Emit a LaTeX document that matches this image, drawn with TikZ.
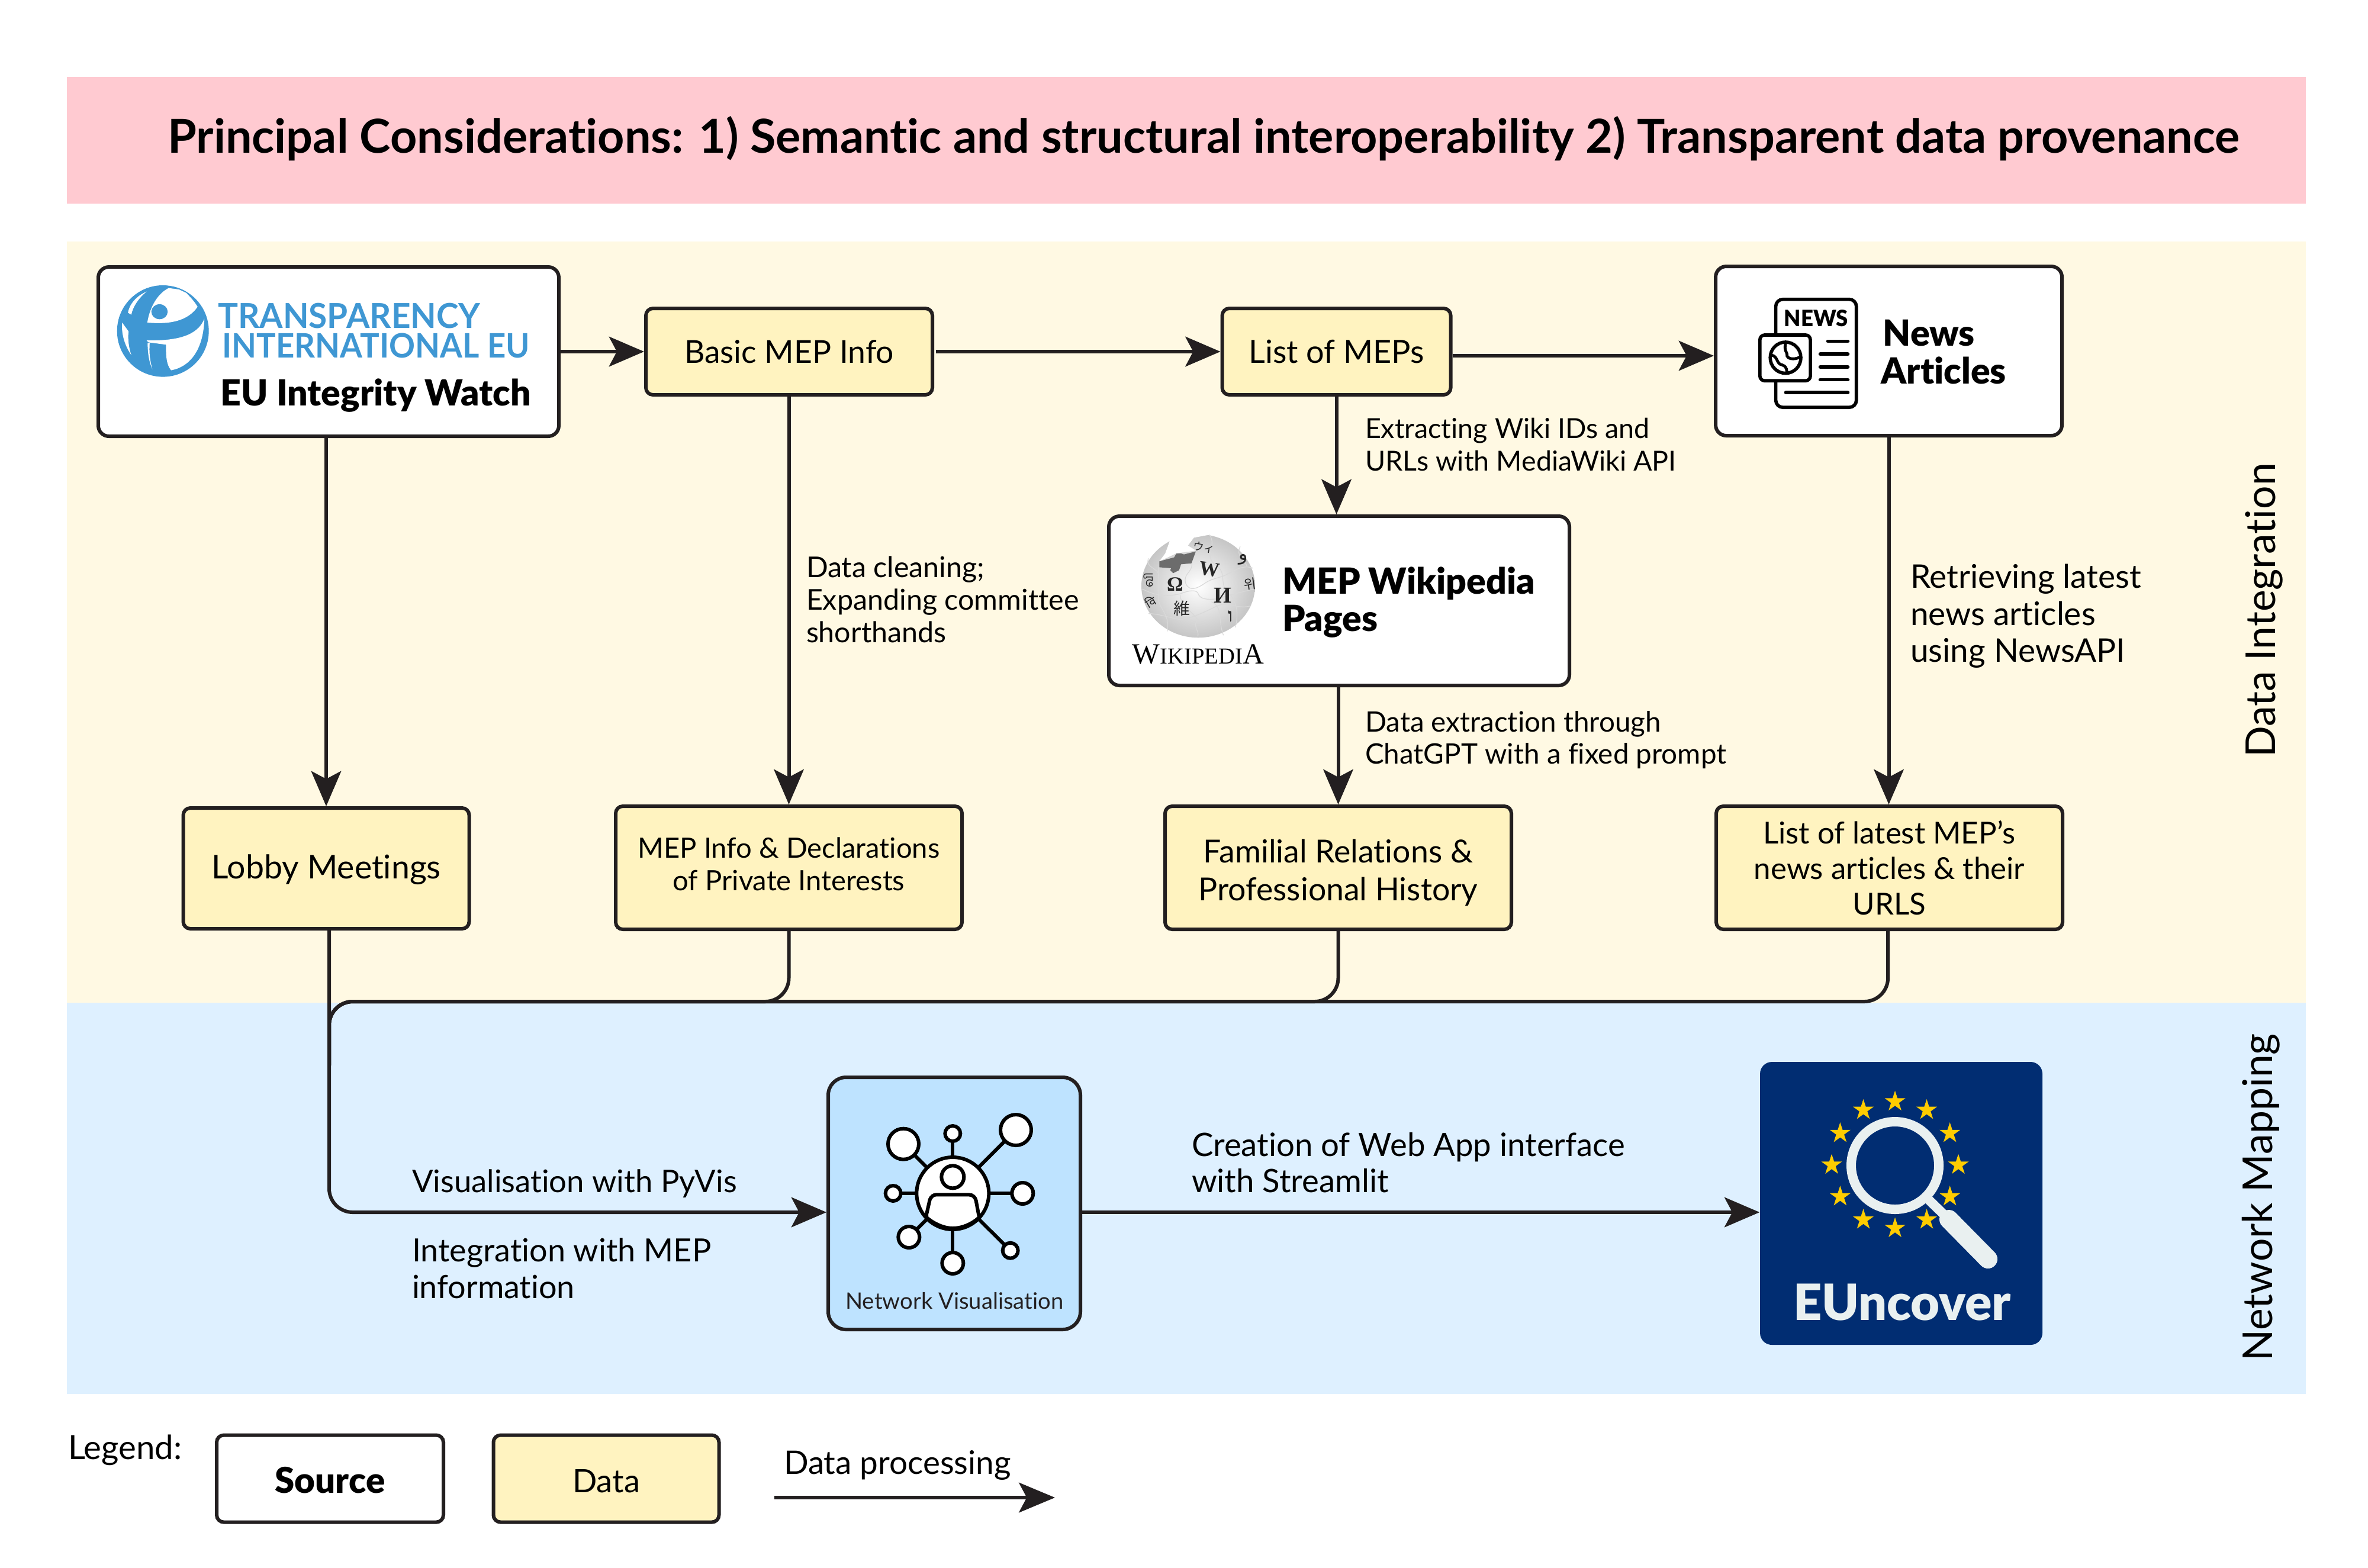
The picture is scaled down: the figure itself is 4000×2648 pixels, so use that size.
\documentclass[tikz,border=0pt]{standalone}
\usepackage{fontspec}
\usetikzlibrary{arrows.meta,shapes.geometric,calc}
\setmainfont{Lato}[Ligatures=NoCommon]
\newfontfamily\heavy{Lato}[UprightFont=* Black,BoldFont=* Black,Ligatures=NoCommon]
\newfontfamily\serifw{Liberation Serif}
\newfontfamily\cjkf{Noto Sans CJK JP}
\newfontfamily\krf{Noto Sans CJK KR}
\newfontfamily\arf[Script=Arabic]{DejaVu Sans}
\newfontfamily\devf[Script=Devanagari]{Noto Sans}
\newfontfamily\tamf[Script=Tamil]{Hind Madurai}
\TeXXeTstate=1
\newcommand\fsz[2]{\fontsize{#1}{#2}\selectfont}
\definecolor{inkc}{HTML}{231F20}
\definecolor{pinkbg}{HTML}{FFCAD1}
\definecolor{yellowbg}{HTML}{FFF9E3}
\definecolor{bluebg}{HTML}{DEF0FF}
\definecolor{datafill}{HTML}{FFF3C0}
\definecolor{netfill}{HTML}{BEE3FF}
\definecolor{tiblue}{HTML}{3F97D3}
\definecolor{eunavy}{HTML}{012D72}
\definecolor{eustar}{HTML}{FFCC00}
\definecolor{euwhite}{HTML}{E9F0F0}
\tikzset{
  base/.style={inner sep=0pt,outer sep=0pt,text=black},
  srcbox/.style={draw=inkc,line width=1.5pt,fill=white,rounded corners=4.5pt,inner sep=0pt},
  databox/.style={draw=inkc,line width=1.5pt,fill=datafill,rounded corners=3pt,inner sep=0pt,align=center},
  conn/.style={draw=inkc,line width=1.5pt},
  arrowln/.style={conn,-{Stealth[length=14.8pt,width=12.6pt,inset=3.3pt]}},
  label/.style={base,anchor=west,align=left},
  heavytxt/.style={base,anchor=base west,font=\heavy\fsz{15.2}{16}},
  icon/.style={draw=black,line width=1.4pt,fill=white},
  netlink/.style={draw=black,line width=1.5pt},
  puzzle/.style={draw=gray!30,line width=.3pt},
  glyph/.style={base,text=black!85},
  star5/.style={star,star points=5,star point ratio=2.618,fill=eustar,inner sep=0pt,minimum size=9.2pt},
}
\begin{document}
\begin{tikzpicture}[x=.25pt,y=-.25pt]
\useasboundingbox (0,0) rectangle (4000,2648);
\fill[white] (0,0) rectangle (4000,2648);
% bands
\fill[pinkbg] (113,130) rectangle (3895,344);
\fill[yellowbg] (113,408) rectangle (3895,1694);
\fill[bluebg] (113,1694) rectangle (3895,2355);
\node[base,font=\bfseries\fsz{19.77}{24}] (title) at (2033,234) {Principal Considerations: 1) Semantic and structural interoperability 2) Transparent data provenance};
% boxes
\node[srcbox,minimum width=194.5pt,minimum height=71.5pt] (eu) at (555,594) {};
\node[databox,font=\fsz{13.35}{15},minimum width=121pt,minimum height=36.5pt] (basic) at (1333,594) {Basic MEP Info};
\node[databox,font=\fsz{13.5}{15},minimum width=96.5pt,minimum height=36.5pt] (list) at (2257.5,594) {List of MEPs};
\node[srcbox,minimum width=146.25pt,minimum height=71.5pt] (news) at (3190.5,593) {};
\node[srcbox,minimum width=194.5pt,minimum height=71.5pt] (wiki) at (2262,1015) {};
\node[databox,font=\fsz{13.85}{15},minimum width=120.75pt,minimum height=51pt] (lobby) at (551,1467) {\rule{0pt}{11.5pt}Lobby Meetings};
\node[databox,font=\fsz{11.8}{13.75},minimum width=146.25pt,minimum height=52pt] (info) at (1332.5,1466) {MEP Info \& Declarations\\\rule[-3.4pt]{0pt}{3.4pt}of Private Interests};
\node[databox,font=\fsz{13.4}{16},minimum width=146.25pt,minimum height=52pt] (fam) at (2260.5,1466) {\rule{0pt}{14pt}Familial Relations \&\\Professional History};
\node[databox,font=\fsz{12.77}{15},minimum width=146.25pt,minimum height=52pt] (latest) at (3191.5,1466) {List of latest MEP’s\\news articles \& their\\URLS};
\node[draw=inkc,line width=1.5pt,fill=netfill,rounded corners=7.5pt,inner sep=0pt,minimum width=106.5pt,minimum height=106.5pt] (net) at (1612,2033) {};
\node[fill=eunavy,rounded corners=5pt,inner sep=0pt,minimum width=119.25pt,minimum height=119.5pt] (eunc) at (3211.5,2033) {};
% connectors
\coordinate (busleft) at (556,1692);
\coordinate (busdown) at (556,1800);
\draw[arrowln] (eu.east) -- (basic.west);
\draw[arrowln] ([xshift=.75pt]basic.east) -- (list.west);
\draw[arrowln] ([yshift=-2pt]news.west -| list.east) -- ([yshift=-2pt]news.west);
\draw[arrowln] (eu.south -| lobby.north) -- (lobby.north);
\draw[arrowln] (basic.south -| info.north) -- (info.north);
\draw[arrowln] (list.south) -- (list.south |- wiki.north);
\draw[arrowln] (wiki.south -| fam.north) -- (fam.north);
\draw[arrowln] (news.south) -- (news.south |- latest.north);
\draw[arrowln,rounded corners=10pt] ([xshift=1.25pt]lobby.south) |- ([yshift=-3.75pt]net.west);
\draw[conn,rounded corners=10pt] ([xshift=-.6pt]latest.south) |- (busleft) -- (busdown);
\draw[conn,rounded corners=10pt] (info.south) |- (busleft) -- (busdown);
\draw[conn,rounded corners=10pt] (fam.south) |- (busleft) -- (busdown);
\draw[arrowln] ([yshift=-3.75pt]net.east) -- ([yshift=-3.75pt]eunc.west);
% connector labels
\node[label,font=\fsz{11.65}{13.6}] (l1) at (2306,751) {Extracting Wiki IDs and\\URLs with MediaWiki API};
\node[label,font=\fsz{12.1}{13.8}] (l2) at (1362,1013) {Data cleaning;\\Expanding committee\\shorthands};
\node[label,font=\fsz{11.9}{13.6}] (l3) at (2306,1250) {Data extraction through\\ChatGPT with a fixed prompt};
\node[label,font=\fsz{13.75}{15.6}] (l4) at (3227,1041) {Retrieving latest\\news articles\\using NewsAPI};
\node[label,font=\fsz{13.16}{15.4}] (l5) at (696,2000) {Visualisation with PyVis};
\node[label,font=\fsz{13.5}{15.4}] (l6) at (696,2143) {Integration with MEP\\information};
\node[label,font=\fsz{13.63}{15.4}] (l7) at (2013,1964) {Creation of Web App interface\\with Streamlit};
\node[base,font=\fsz{17.4}{19},rotate=90] (dint) at (3824,1031) {Data Integration};
\node[base,font=\fsz{17.4}{19},rotate=90] (nmap) at (3819,2023) {Network Mapping};
% Transparency logo
\begin{scope}[shift={(130,420)},x=.1435pt,y=-.0833pt]
  \fill[tiblue] (253,418) ellipse [x radius=135,y radius=232];
  \fill[white] (270,200) .. controls (240,225) and (215,290) .. (207,375) .. controls (270,385) and (325,370) .. (355,295) .. controls (345,265) and (330,240) .. (322,225) -- (300,207) -- cycle;
  \fill[tiblue] (243,320) ellipse [x radius=24,y radius=38];
  \fill[white] (262,487) .. controls (262,540) and (262,585) .. (277,617) .. controls (330,600) and (372,520) .. (375,355) .. controls (360,420) and (320,470) .. (205,465) -- (210,475) -- cycle;
  \fill[white] (208,478) .. controls (208,530) and (212,575) .. (222,612) .. controls (215,570) and (212,530) .. (214,480) -- cycle;
  \fill[white] (205,218) .. controls (175,240) and (155,280) .. (150,325) -- (160,335) .. controls (165,290) and (185,245) .. (205,218) -- cycle;
  \fill[white] (133,375) .. controls (130,430) and (140,490) .. (160,540) .. controls (150,490) and (150,440) .. (152,420) -- cycle;
  \node[base,anchor=west,text=tiblue] (tr) at (415,340) {\resizebox{110.8pt}{10.6pt}{\bfseries TRANSPARENCY}};
  \node[base,anchor=west,text=tiblue] (in) at (428,492) {\resizebox{129.8pt}{10.4pt}{\bfseries INTERNATIONAL EU}};
  \node[base,anchor=base west] (wt) at (423,796) {\resizebox{131pt}{!}{\heavy EU Integrity Watch}};
\end{scope}
% News icon
\begin{scope}[shift={(2850,420)},x=.1116pt,y=-.0833pt]
  \draw[icon,rounded corners=3pt] (335,257) rectangle (640,805);
  \node[base] (newsglyph) at (488,352) {\resizebox{27pt}{7pt}{\heavy NEWS}};
  \draw[icon,rounded corners=2pt] (275,438) rectangle (466,670);
  \draw[icon] (372,553) ellipse [x radius=58,y radius=79];
  \draw[draw=black,line width=1.2pt] (372,480) .. controls (365,520) and (380,525) .. (378,545) .. controls (385,565) and (415,560) .. (425,550);
  \draw[draw=black,line width=1.2pt] (318,540) .. controls (345,545) and (335,585) .. (360,590) .. controls (380,600) and (375,620) .. (378,632);
  \foreach \xa/\yy [count=\i] in {532/470,503/535,503/600,503/665,373/730}
    \draw[draw=black,line width=1.4pt,line cap=round] (\xa,\yy) -- (608,\yy);
  \node[heavytxt] (n1) at (741,495) {News};
  \node[heavytxt] (n2) at (734,686) {Articles};
\end{scope}
\node[heavytxt] (w1) at (2166,1003) {MEP Wikipedia};
\node[heavytxt] (w2) at (2166,1066) {Pages};
% Wikipedia globe
\begin{scope}[shift={(1900,880)},x=.0833pt,y=-.0833pt]
  \shade[inner color=white,outer color=gray!45] (372,330) ellipse [x radius=288,y radius=262];
  \fill[white] (110,50) -- (240,50) -- (235,75) -- (225,110) -- (205,165) -- (175,205) -- (260,165) -- (330,155) -- (360,150) -- (320,125) -- (350,85) -- (430,70) -- (510,68) -- (510,50) -- cycle;
  \fill[gray!85!black] (175,205) -- (250,185) -- (262,165) -- (285,165) -- (300,170) -- (360,155) -- (338,215) -- (285,220) -- (275,250) -- (245,265) -- (230,250) -- (235,240) -- (175,235) -- cycle;
  \draw[puzzle] (340,215) .. controls (345,260) and (290,270) .. (310,320) .. controls (330,360) and (370,340) .. (400,320) .. controls (440,290) and (480,290) .. (510,275) .. controls (560,250) and (600,220) .. (650,240);
  \draw[puzzle] (88,345) .. controls (140,370) and (190,390) .. (280,370) .. controls (330,350) and (360,350) .. (370,365) .. controls (380,400) and (420,400) .. (470,395) .. controls (520,380) and (590,360) .. (660,345);
  \draw[puzzle] (120,470) .. controls (170,470) and (220,490) .. (280,500) .. controls (320,500) and (390,470) .. (470,430) .. controls (520,410) and (580,450) .. (640,430);
  \draw[puzzle] (170,235) .. controls (170,280) and (170,330) .. (170,400) .. controls (180,450) and (230,480) .. (215,560);
  \draw[puzzle] (280,375) .. controls (280,420) and (330,450) .. (370,500) .. controls (340,530) and (380,560) .. (370,585);
  \draw[puzzle] (430,70) .. controls (470,130) and (390,180) .. (470,230) .. controls (520,270) and (470,330) .. (540,380) .. controls (580,440) and (570,500) .. (560,540);
  \draw[puzzle] (440,410) .. controls (500,440) and (470,500) .. (500,580);
  \draw[puzzle] (120,190) .. controls (100,240) and (180,240) .. (170,280);
  \draw[puzzle] (585,130) .. controls (560,180) and (610,200) .. (620,230);
  \node[glyph,font=\serifw\bfseries\fsz{8.6}{9}] (g1) at (255,320) {Ω};
  \node[glyph,font=\serifw\bfseries\fsz{8.6}{9},rotate=-8] (g2) at (430,245) {W};
  \node[glyph,font=\serifw\bfseries\fsz{9.6}{10}] (g3) at (495,378) {И};
  \node[glyph,font=\cjkf\fsz{7}{8}] (g4) at (290,445) {維};
  \node[glyph,font=\cjkf\fsz{4.6}{6},rotate=-10] (g5) at (400,135) {ウィ};
  \node[glyph,font=\krf\fsz{5.6}{7},rotate=8] (g6) at (635,320) {위};
  \node[glyph,font=\serifw\bfseries\fsz{8}{9}] (g7) at (535,485) {\beginR ו\endR};
  \node[glyph,font=\arf\fsz{8}{9}] (g8) at (600,195) {\beginR و\endR};
  \node[glyph,font=\tamf\fsz{5}{6},rotate=90] (g9) at (120,300) {வி};
  \node[glyph,font=\devf\fsz{5}{6},rotate=30] (g10) at (130,410) {वि};
  \node[base,anchor=base] (wtxt) at (372,725) {\resizebox{55.5pt}{!}{\serifw\fsz{13.6}{14}W{\fsz{10.6}{12}IKIPEDI}A}};
\end{scope}
% Network icon
\begin{scope}[shift={(1380,1800)},x=.08333pt,y=-.08333pt]
  \foreach \px/\py [count=\i] in {438/398,688/345,1008/327,1042/648,386/648,466/870,688/1002,980/938}
    \draw[netlink] (688,648) -- (\px,\py);
  \foreach \px/\py/\pr [count=\i] in {438/398/78,688/345/39,1008/327/78,1042/648/54,386/648/39,466/870/54,688/1002/54,980/938/39}
    \draw[icon,line width=1.5pt] (\px,\py) circle (\pr);
  \draw[icon,line width=1.5pt] (688,648) circle (183);
  \draw[icon,line width=1.5pt] (688,565) circle (57);
  \draw[draw=black,line width=1.5pt,fill=white] (555,755) -- (572,680) .. controls (578,665) and (590,655) .. (605,655) -- (770,655) .. controls (790,655) and (802,668) .. (806,685) -- (822,770) .. controls (790,800) and (740,825) .. (688,825) .. controls (640,825) and (590,800) .. (555,770) -- cycle;
  \node[base,anchor=base,text=inkc,font=\fsz{9.55}{12}] (nvtxt) at (697,1233) {Network Visualisation};
\end{scope}
% EUncover
\foreach \a [count=\i] in {0,30,...,330}
  \node[star5] (st\i) at ($(3201,1968)+(\a:107)$) {};
\draw[draw=euwhite,line width=4pt] (3201,1969) circle (74);
\draw[draw=euwhite,line width=4pt] (3256,2025) -- (3293,2061);
\draw[draw=euwhite,line width=8pt,line cap=round] (3292,2060) -- (3358,2127);
\node[base,anchor=base west,text=euwhite] (euntxt) at (3029,2230) {\resizebox{92pt}{!}{\heavy EUncover}};
% legend
\node[base,anchor=base west,font=\fsz{14.1}{15}] (leg) at (115,2465) {Legend:};
\node[srcbox,rounded corners=3pt,minimum width=95.75pt,minimum height=36.75pt,font=\heavy\fsz{15}{16}] (lsrc) at (557.5,2498) {\rule{0pt}{12.5pt}Source};
\node[databox,font=\fsz{13.6}{15},minimum width=95.25pt,minimum height=36.75pt] (ldata) at (1024,2498) {\rule{0pt}{12pt}Data};
\coordinate (la) at (1308,2530);
\coordinate (lb) at (1782,2530);
\draw[conn,-{Stealth[length=15.2pt,width=12.6pt,inset=3.3pt]}] (la) -- (lb);
\node[base,anchor=base west,font=\fsz{13.7}{15}] (lproc) at (1324,2490) {Data processing};
\end{tikzpicture}
\end{document}
